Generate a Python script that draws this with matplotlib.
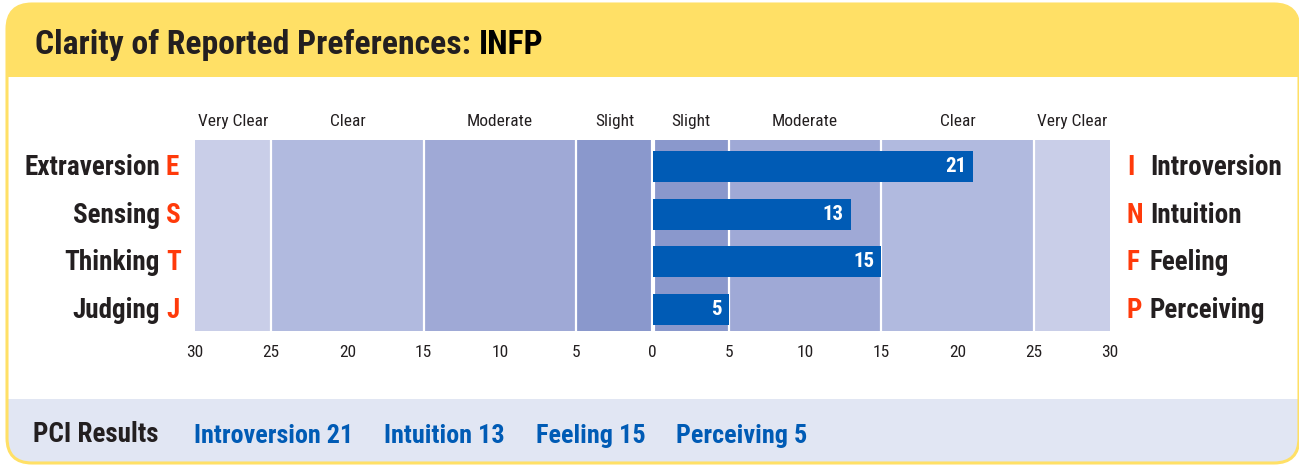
import matplotlib
matplotlib.use("Agg")
import matplotlib.pyplot as plt
from matplotlib.patches import FancyBboxPatch, Rectangle
from matplotlib.transforms import blended_transform_factory

# ---- data ----
title = "Clarity of Reported Preferences:"
type_code = "INFP"
left_words = ["Extraversion", "Sensing", "Thinking", "Judging"]
left_letters = ["E", "S", "T", "J"]
right_letters = ["I", "N", "F", "P"]
right_words = ["Introversion", "Intuition", "Feeling", "Perceiving"]
scores = [21, 13, 15, 5]
sides = [1, 1, 1, 1]  # +1 = right-hand pole, -1 = left-hand pole
band_edges = [0, 5, 15, 25, 30]
band_names = ["Slight", "Moderate", "Clear", "Very Clear"]
tick_values = [-30, -25, -20, -15, -10, -5, 0, 5, 10, 15, 20, 25, 30]

# ---- style ----
FONT = ["Roboto Condensed", "Barlow Condensed", "Liberation Sans Narrow", "DejaVu Sans"]
plt.rcParams["font.family"] = FONT
YELLOW = "#ffe066"
FOOT = "#e1e6f3"
BAND_COLORS = ["#8a98cc", "#9fa9d6", "#b1badf", "#c9cee8"]
BAR = "#005bb5"
RED = "#ff3a0a"
DARK = "#231f20"

W, H = 1299, 465
fig = plt.figure(figsize=(W / 100, H / 100), dpi=100)

# background axes in pixel coordinates
bg = fig.add_axes([0, 0, 1, 1])
bg.set_xlim(0, W)
bg.set_ylim(H, 0)
bg.axis("off")

box = dict(boxstyle="round,pad=0,rounding_size=25")
frame = FancyBboxPatch((7, 4), 1292, 459, facecolor="white", edgecolor="none", **box)
bg.add_patch(frame)
for y0, y1, c in [(0, 77, YELLOW), (399, H, FOOT)]:
    r = Rectangle((0, y0), W, y1 - y0, facecolor=c, edgecolor="none")
    bg.add_patch(r)
    r.set_clip_path(frame)
border = FancyBboxPatch((7, 4), 1292, 459, facecolor="none", edgecolor=YELLOW,
                        linewidth=2.2, **box)
bg.add_patch(border)

renderer = fig.canvas.get_renderer()

# header
t = bg.text(35, 45, title + " ", fontsize=24.2, fontweight="bold", color=DARK,
            ha="left", va="center")
bb = t.get_window_extent(renderer)
bg.text(bb.x1, 45, type_code, fontsize=24.2, fontweight="bold", color="black",
        ha="left", va="center")

# chart axes
ax = fig.add_axes([195 / W, 1 - 331 / H, 915 / W, 191 / H])
ax.set_xlim(-30, 30)
ax.set_ylim(3.451, -0.556)
for s in ax.spines.values():
    s.set_visible(False)

for i in range(len(band_names)):
    lo, hi = band_edges[i], band_edges[i + 1]
    for sgn in (-1, 1):
        ax.axvspan(sgn * lo, sgn * hi, color=BAND_COLORS[i], lw=0, zorder=0)
        ax.text(sgn * (lo + hi) / 2, -0.95, band_names[i], ha="center", va="center",
                fontsize=12.5, color=DARK, clip_on=False)
for e in band_edges[1:-1]:
    ax.axvline(e, color="white", lw=1.6, zorder=1)
    ax.axvline(-e, color="white", lw=1.6, zorder=1)
ax.axvline(0, color="white", lw=3, zorder=1)

rows = list(range(len(scores)))
vals = [s * d for s, d in zip(scores, sides)]
ax.barh(rows, vals, height=0.65, color=BAR, zorder=2)
for r, v in zip(rows, vals):
    off = -0.45 if v > 0 else 0.45
    ax.text(v + off, r, str(abs(v)), ha="right" if v > 0 else "left", va="center",
            fontsize=15, fontweight="bold", color="white", zorder=3)

ax.set_xticks(tick_values)
ax.set_xticklabels([str(abs(v)) for v in tick_values])
ax.tick_params(axis="x", length=0, pad=10, labelsize=12.5, labelcolor=DARK)
ax.set_yticks([])

# row labels (x in pixels, y in rows)
tr = blended_transform_factory(bg.transData, ax.transData)
for r in rows:
    ax.text(160, r + 0.02, left_words[r], transform=tr, ha="right", va="center",
            fontsize=19.5, fontweight="bold", color=DARK, clip_on=False)
    ax.text(166, r + 0.02, left_letters[r], transform=tr, ha="left", va="center",
            fontsize=19.5, fontweight="bold", color=RED, clip_on=False)
    ax.text(1127, r + 0.02, right_letters[r], transform=tr, ha="left", va="center",
            fontsize=19.5, fontweight="bold", color=RED, clip_on=False)
    ax.text(1150, r + 0.02, right_words[r], transform=tr, ha="left", va="center",
            fontsize=19.5, fontweight="bold", color=DARK, clip_on=False)

# footer
bg.text(33, 434, "PCI Results", fontsize=19.5, fontweight="bold", color=DARK,
        ha="left", va="center")
x = 194
for r in rows:
    name = right_words[r] if sides[r] > 0 else left_words[r]
    t = bg.text(x, 436, f"{name} {scores[r]}", fontsize=18.8, fontweight="bold",
                color=BAR, ha="left", va="center")
    x = t.get_window_extent(renderer).x1 + 31

fig.savefig("out.png", dpi=100)
